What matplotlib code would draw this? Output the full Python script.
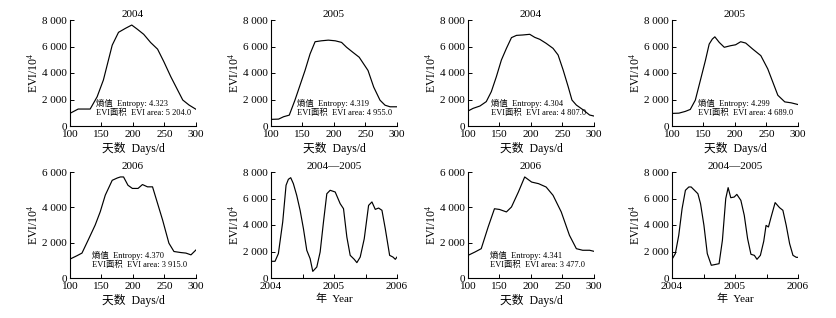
import matplotlib
matplotlib.use("Agg")
import matplotlib.pyplot as plt
from matplotlib.ticker import FixedLocator, FuncFormatter

plt.rcParams['font.family'] = ['Liberation Serif', 'Noto Sans CJK SC']
plt.rcParams['mathtext.fontset'] = 'stix'

# ===== DATA =====
# panel 1: 2004
day1 = [100, 113, 120, 132, 143, 153, 167, 177, 188, 198, 207, 217, 228, 239, 249, 260, 271, 279, 289, 300]
evi1 = [956, 1280, 1280, 1280, 2200, 3470, 6100, 7070, 7370, 7620, 7300, 6920, 6300, 5800, 4850, 3720, 2700, 1960, 1580, 1260]

# panel 2: 2005
day2 = [100, 112, 120, 129, 138, 146, 154, 162, 170, 180, 191, 202, 212, 220, 230, 240, 254, 263, 273, 281, 289, 300]
evi2 = [500, 520, 700, 820, 1950, 3070, 4190, 5440, 6360, 6430, 6480, 6430, 6310, 5940, 5560, 5190, 4190, 2940, 1950, 1570, 1450, 1450]

# panel 3: 2004
day3 = [100, 108, 119, 129, 137, 145, 153, 161, 169, 177, 187, 198, 206, 214, 224, 235, 243, 251, 259, 265, 272, 283, 293, 300]
evi3 = [1130, 1330, 1510, 1840, 2590, 3720, 4980, 5860, 6670, 6840, 6870, 6920, 6690, 6540, 6240, 5860, 5360, 4230, 2970, 1960, 1580, 1210, 830, 750]

# panel 4: 2005
day4 = [100, 111, 121, 129, 137, 145, 153, 159, 164, 168, 175, 183, 193, 201, 209, 217, 228, 241, 252, 261, 268, 279, 289, 300]
evi4 = [950, 970, 1100, 1250, 1950, 3440, 4940, 6180, 6560, 6730, 6310, 5940, 6060, 6130, 6360, 6260, 5810, 5310, 4310, 3190, 2320, 1820, 1750, 1620]

# panel 5: 2006
day5 = [100, 111, 119, 129, 140, 148, 156, 167, 175, 180, 185, 192, 199, 208, 215, 223, 231, 239, 247, 257, 265, 276, 284, 292, 300]
evi5 = [1070, 1260, 1410, 2160, 3000, 3750, 4690, 5530, 5660, 5720, 5720, 5250, 5070, 5070, 5290, 5160, 5160, 4220, 3280, 1970, 1500, 1440, 1410, 1310, 1590]

# panel 6: 2004-2006 series
yr6 = [2004.0, 2004.064, 2004.117, 2004.186, 2004.239, 2004.276, 2004.313, 2004.355, 2004.408, 2004.462,
       2004.515, 2004.568, 2004.621, 2004.663, 2004.727, 2004.780, 2004.833, 2004.886, 2004.939, 2005.019,
       2005.098, 2005.151, 2005.204, 2005.257, 2005.321, 2005.363, 2005.416, 2005.480, 2005.549, 2005.602,
       2005.655, 2005.708, 2005.761, 2005.814, 2005.883, 2005.936, 2005.973, 2006.0]
evi6 = [1260, 1260, 1840, 4230, 7000, 7450, 7570, 7120, 6240, 5110,
        3720, 2090, 1460, 500, 830, 1960, 4230, 6360, 6620, 6490,
        5610, 5230, 3090, 1710, 1410, 1160, 1580, 2960, 5480, 5740,
        5180, 5280, 5110, 3720, 1710, 1580, 1410, 1580]

# panel 7: 2006
day7 = [100, 111, 121, 132, 142, 150, 161, 169, 180, 190, 201, 212, 224, 235, 248, 261, 272, 282, 293, 300]
evi7 = [1280, 1470, 1660, 2890, 3920, 3880, 3740, 4020, 4870, 5720, 5430, 5340, 5150, 4680, 3740, 2420, 1660, 1570, 1570, 1510]

# panel 8: 2004-2006 series
yr8 = [2004.0, 2004.053, 2004.107, 2004.16, 2004.213, 2004.267, 2004.304, 2004.357, 2004.411, 2004.453,
       2004.507, 2004.56, 2004.624, 2004.677, 2004.747, 2004.8, 2004.853, 2004.891, 2004.933, 2004.987,
       2005.029, 2005.093, 2005.147, 2005.2, 2005.253, 2005.307, 2005.349, 2005.403, 2005.456, 2005.493,
       2005.531, 2005.573, 2005.637, 2005.707, 2005.76, 2005.813, 2005.867, 2005.92, 2005.973, 2006.0]
evi8 = [1410, 1840, 3220, 5230, 6620, 6870, 6870, 6620, 6360, 5610,
        3970, 1840, 960, 1010, 1080, 2840, 5990, 6820, 6060, 6110,
        6310, 5860, 4730, 2970, 1790, 1710, 1410, 1710, 2770, 3970,
        3850, 4600, 5690, 5310, 5110, 3970, 2590, 1710, 1560, 1560]

titles = ["2004", "2005", "2004", "2005", "2006", "2004\u20142005", "2006", "2004\u20142005"]
entropy = ["4.323", "4.319", "4.304", "4.299", "4.370", None, "4.341", None]
area = ["5 204.0", "4 955.0", "4 807.0", "4 689.0", "3 915.0", None, "3 477.0", None]
ymax = [8000, 8000, 8000, 8000, 6000, 8000, 6000, 8000]

xs = [day1, day2, day3, day4, day5, yr6, day7, yr8]
ys = [evi1, evi2, evi3, evi4, evi5, evi6, evi7, evi8]

# ===== LAYOUT (pixels) =====
W, H = 837, 318
lefts = [70, 271, 468, 672]
bottoms = [126, 278]
aw, ah = 126, 106

fig = plt.figure(figsize=(W / 100, H / 100), dpi=100)

thousand = FuncFormatter(lambda v, p: f"{int(v):,}".replace(",", " "))

for i in range(8):
    r, c = divmod(i, 4)
    ax = fig.add_axes([lefts[c] / W, (H - bottoms[r]) / H, aw / W, ah / H])
    ax.plot(xs[i], ys[i], color="black", lw=0.85)
    ax.spines["top"].set_visible(False)
    ax.spines["right"].set_visible(False)
    ax.spines["left"].set_linewidth(0.8)
    ax.spines["bottom"].set_linewidth(0.8)
    ax.set_ylim(0, ymax[i])
    ax.yaxis.set_major_locator(FixedLocator(list(range(0, ymax[i] + 1, 2000))))
    ax.yaxis.set_major_formatter(thousand)
    if i in (5, 7):
        ax.set_xlim(2004, 2006)
        ax.set_xticks([2004, 2005, 2006])
        ax.set_xticks([2004.5, 2005.5], minor=True)
        ax.set_xlabel("年  Year", fontsize=8, labelpad=2)
    else:
        ax.set_xlim(100, 300)
        ax.set_xticks([100, 150, 200, 250, 300])
        ax.set_xlabel("天数  Days/d", fontsize=8.5, labelpad=2)
    ax.tick_params(which="both", direction="in", labelsize=8, length=3, width=0.7)
    ax.tick_params(axis="x", which="both", pad=3)
    ax.tick_params(axis="y", which="both", pad=2)
    ax.set_ylabel("EVI/10$^{4}$", fontsize=8.5, labelpad=1)
    ax.set_title(titles[i], fontsize=8, pad=2)
    if entropy[i] is not None:
        tx = 141 if c in (0, 1, 3) else 136
        if r == 1:
            tx = 135
        top = ymax[i]
        ax.text(tx, top * 0.21, "熵值  Entropy: " + entropy[i], fontsize=6, va="center")
        ax.text(tx, top * 0.12, "EVI面积  EVI area: " + area[i], fontsize=6, va="center")

fig.savefig("out.png", dpi=100)
